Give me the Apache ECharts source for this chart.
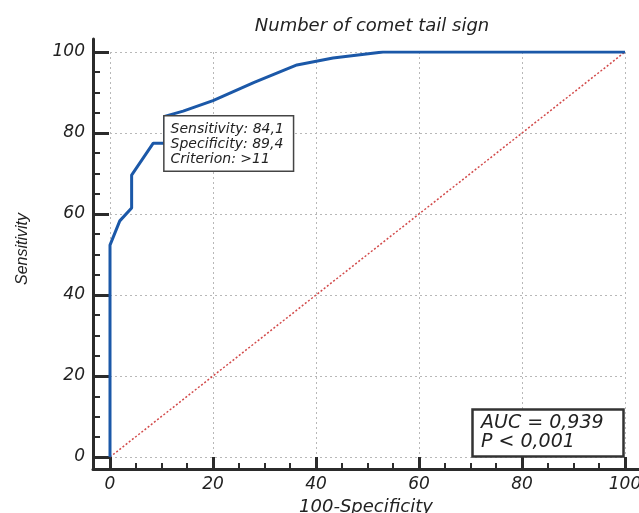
<!DOCTYPE html>
<html>
<head>
<meta charset="utf-8">
<script src="https://cdn.jsdelivr.net/npm/echarts@6/dist/echarts.min.js"></script>
<style>html,body{margin:0;padding:0;background:#fff}#c{width:639px;height:513px}</style>
</head>
<body>
<div id="c"></div>
<script>
// ROC curve points (100-Specificity, Sensitivity)
const fprValues = [0, 0, 1.9, 4.2, 4.2, 8.4, 10.6, 10.6, 14.2, 20, 28, 36.3, 43.3, 53, 100];
const sensValues = [0, 52.3, 58.3, 61.5, 69.6, 77.5, 77.5, 84.1, 85.4, 88, 92.5, 96.8, 98.5, 100, 100];
// reference (chance) line
const diagX = [0, 100];
const diagY = [0, 100];
// tick values
const majorTicks = [0, 20, 40, 60, 80, 100];
const minorTicks = [5, 10, 15, 25, 30, 35, 45, 50, 55, 65, 70, 75, 85, 90, 95];
// criterion point
const criterionPoint = [10.6, 84.1];
const criterionText = ['Sensitivity: 84,1', 'Specificity: 89,4', 'Criterion: >11'];
const statsText = ['AUC = 0,939', 'P < 0,001'];
const chartTitle = 'Number of comet tail sign';
const xName = '100-Specificity';
const yName = 'Sensitivity';

// frame axes extend a little beyond the 0..100 plotting area
const xFrameMin = -3.3, xFrameMax = 102.72;
const yFrameMin = -2.96, yFrameMax = 103.2;

const tickFont = { fontFamily: 'DejaVu Sans', fontStyle: 'italic', fontSize: 17, color: '#222' };
const axisColor = '#2b2b2b';
const gridLine = { show: true, lineStyle: { color: '#b8b8b8', width: 1, type: [2, 3] } };

const chart = echarts.init(document.getElementById('c'), null, { renderer: 'canvas' });
chart.setOption({
  animation: false,
  backgroundColor: '#fff',
  title: [
    { text: chartTitle, left: 367, textAlign: 'center', top: 12,
      textStyle: { fontFamily: 'DejaVu Sans', fontStyle: 'italic', fontWeight: 'normal', fontSize: 18, color: '#222' } },
    { text: statsText.join('\n'), left: 472, top: 409, padding: [5, 20, 5, 9],
      borderColor: '#333', borderWidth: 2.5, backgroundColor: '#fff',
      textStyle: { fontFamily: 'DejaVu Sans', fontStyle: 'italic', fontWeight: 'normal', fontSize: 19, lineHeight: 19, color: '#222' } }
  ],
  grid: [
    { left: 110, right: 14, top: 52, bottom: 56, outerBoundsMode: 'none', containLabel: false },
    { left: 93, right: 0, top: 39, bottom: 44, outerBoundsMode: 'none', containLabel: false }
  ],
  xAxis: [
    { type: 'value', gridIndex: 0, min: 0, max: 100, interval: 20,
      axisLine: { show: false }, axisTick: { show: false }, axisLabel: { show: false },
      splitLine: gridLine },
    { type: 'value', gridIndex: 1, position: 'bottom', min: xFrameMin, max: xFrameMax,
      name: xName, nameLocation: 'middle', nameGap: 27,
      nameTextStyle: { fontFamily: 'DejaVu Sans', fontStyle: 'italic', fontSize: 18, color: '#222' },
      axisLine: { show: true, onZero: false, lineStyle: { color: axisColor, width: 3 } },
      axisTick: { show: true, inside: true, length: 12, customValues: majorTicks, lineStyle: { color: axisColor, width: 3 } },
      axisLabel: Object.assign({ margin: 7, customValues: majorTicks }, tickFont),
      splitLine: { show: false } },
    { type: 'value', gridIndex: 1, position: 'bottom', min: xFrameMin, max: xFrameMax,
      axisLine: { show: false, onZero: false },
      axisTick: { show: true, inside: true, length: 6, customValues: minorTicks, lineStyle: { color: axisColor, width: 2 } },
      axisLabel: { show: false }, splitLine: { show: false } }
  ],
  yAxis: [
    { type: 'value', gridIndex: 0, min: 0, max: 100, interval: 20,
      axisLine: { show: false }, axisTick: { show: false }, axisLabel: { show: false },
      splitLine: gridLine },
    { type: 'value', gridIndex: 1, position: 'left', min: yFrameMin, max: yFrameMax,
      name: yName, nameLocation: 'middle', nameGap: 62,
      nameTextStyle: { fontFamily: 'Liberation Sans', fontStyle: 'italic', fontSize: 16, color: '#222', padding: [0, 0, 0, 10] },
      axisLine: { show: true, onZero: false, lineStyle: { color: axisColor, width: 3 } },
      axisTick: { show: true, inside: true, length: 16, customValues: majorTicks, lineStyle: { color: axisColor, width: 3 } },
      axisLabel: Object.assign({ margin: 8, customValues: majorTicks }, tickFont),
      splitLine: { show: false } },
    { type: 'value', gridIndex: 1, position: 'left', min: yFrameMin, max: yFrameMax,
      axisLine: { show: false, onZero: false },
      axisTick: { show: true, inside: true, length: 7, customValues: minorTicks, lineStyle: { color: axisColor, width: 2 } },
      axisLabel: { show: false }, splitLine: { show: false } }
  ],
  series: [
    { type: 'line', xAxisIndex: 0, yAxisIndex: 0, symbol: 'none', z: 3,
      data: diagX.map((x, i) => [x, diagY[i]]),
      lineStyle: { color: '#d24a4a', width: 1.5, type: [2, 2] } },
    { type: 'line', xAxisIndex: 0, yAxisIndex: 0, symbol: 'none', z: 4,
      data: fprValues.map((x, i) => [x, sensValues[i]]),
      lineStyle: { color: '#1b58a8', width: 3 },
      markPoint: {
        symbol: 'circle', symbolSize: 0,
        data: [{ coord: criterionPoint }],
        label: {
          show: true, position: [0, 0], align: 'left', verticalAlign: 'top',
          formatter: criterionText.join('\n'),
          fontFamily: 'DejaVu Sans', fontStyle: 'italic', fontSize: 14, lineHeight: 15, color: '#222',
          backgroundColor: '#fff', borderColor: '#444', borderWidth: 1.5, padding: [5, 9, 4, 6]
        }
      }
    }
  ]
});
</script>
</body>
</html>
